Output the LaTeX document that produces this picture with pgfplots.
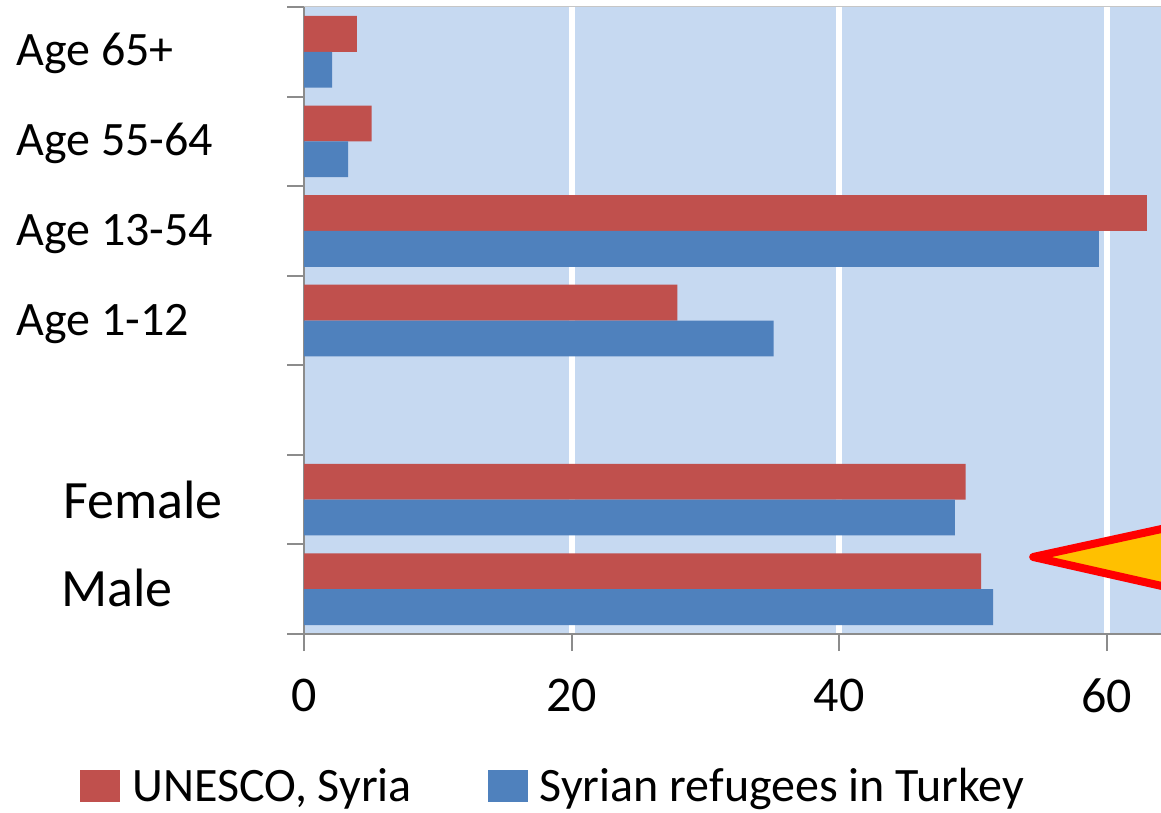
\documentclass[border=0pt]{standalone}
\usepackage{pgfplots}
\pgfplotsset{compat=1.18}
\usepackage{pgfplotstable}
\usepackage{fontspec}
\setmainfont{Carlito}

\definecolor{unesco}{HTML}{C0504D}
\definecolor{turkey}{HTML}{4F81BD}
\definecolor{plotbg}{HTML}{C6D9F1}
\definecolor{axisgray}{HTML}{8C8C8C}
\definecolor{arrowfill}{HTML}{FFC000}
\definecolor{arrowline}{HTML}{FF0000}

% Share of each group, in percent.
% y: 0 Male, 1 Female, 3 Age 1-12, 4 Age 13-54, 5 Age 55-64, 6 Age 65+
\pgfplotstableread{
y   unesco  turkey
0   50.6    51.5
1   49.45   48.65
3   27.9    35.1
4   63.0    59.4
5   5.05    3.3
6   3.95    2.1
}\shares

\begin{document}
\begin{tikzpicture}
\useasboundingbox (0pt,0pt) rectangle (580.5pt,-406.5pt);
\begin{axis}[
  at={(152pt,-317pt)}, anchor=south west,
  scale only axis, width=428.5pt, height=313.5pt,
  xbar, bar width=0.4,
  xmin=0, xmax=64.05, ymin=-0.5, ymax=6.5,
  axis background/.style={fill=plotbg},
  axis x line*=bottom, axis y line*=left,
  axis line style={axisgray, line width=1pt, -},
  tick style={axisgray, line width=1pt},
  tick align=outside, major tick length=8.5pt,
  xtick={20,40,60}, extra x ticks={0}, extra x tick style={grid=none},
  xmajorgrids, major grid style={white, line width=3pt},
  ytick={-0.5,0.5,1.5,2.5,3.5,4.5,5.5,6.5}, yticklabels={},
  /pgf/number format/assume math mode=true,
  xticklabel style={font=\fontsize{25}{30}\selectfont, yshift=-10.5pt},
  legend style={
    at={(-0.2614,-0.2425)}, anchor=west,
    draw=none, fill=none, inner sep=0pt,
    legend columns=2,
    font=\fontsize{24}{28}\selectfont,
    nodes={inner sep=0pt},
    column sep=6pt,
    /tikz/every even column/.append style={column sep=38pt},
  },
  legend image code/.code={\fill[#1] (0pt,-8pt) rectangle (20pt,8pt);},
]
\addplot[fill=unesco, draw=none, bar shift=0.2] table[x=unesco, y=y] {\shares};
\addlegendentry{UNESCO, Syria}
\addplot[fill=turkey, draw=none, bar shift=-0.2] table[x=turkey, y=y] {\shares};
\addlegendentry{Syrian refugees in Turkey}
% pointer pushing in from the right edge
\draw[fill=arrowfill, draw=arrowline, line width=4pt, line join=round]
  (axis cs:54.5,0.36) -- (axis cs:72,0.93) -- (axis cs:72,-0.23) -- cycle;
\end{axis}
\draw[gray!45, line width=0.5pt] (152pt,-3.25pt) -- (580.5pt,-3.25pt);
\begin{scope}[x=0.5pt, y=-0.5pt, every node/.style={inner sep=0pt, anchor=base west}]
  \node[font=\fontsize{24}{28}\selectfont] at (16,66)    {Age 65+};
  \node[font=\fontsize{24}{28}\selectfont] at (16,155.6) {Age 55-64};
  \node[font=\fontsize{24}{28}\selectfont] at (16,245)   {Age 13-54};
  \node[font=\fontsize{24}{28}\selectfont] at (16,335)   {Age 1-12};
  \node[font=\fontsize{27}{32}\selectfont] at (63,518.3)   {Female};
  \node[font=\fontsize{27}{32}\selectfont] at (61,606.7)   {Male};
\end{scope}
\end{tikzpicture}
\end{document}
